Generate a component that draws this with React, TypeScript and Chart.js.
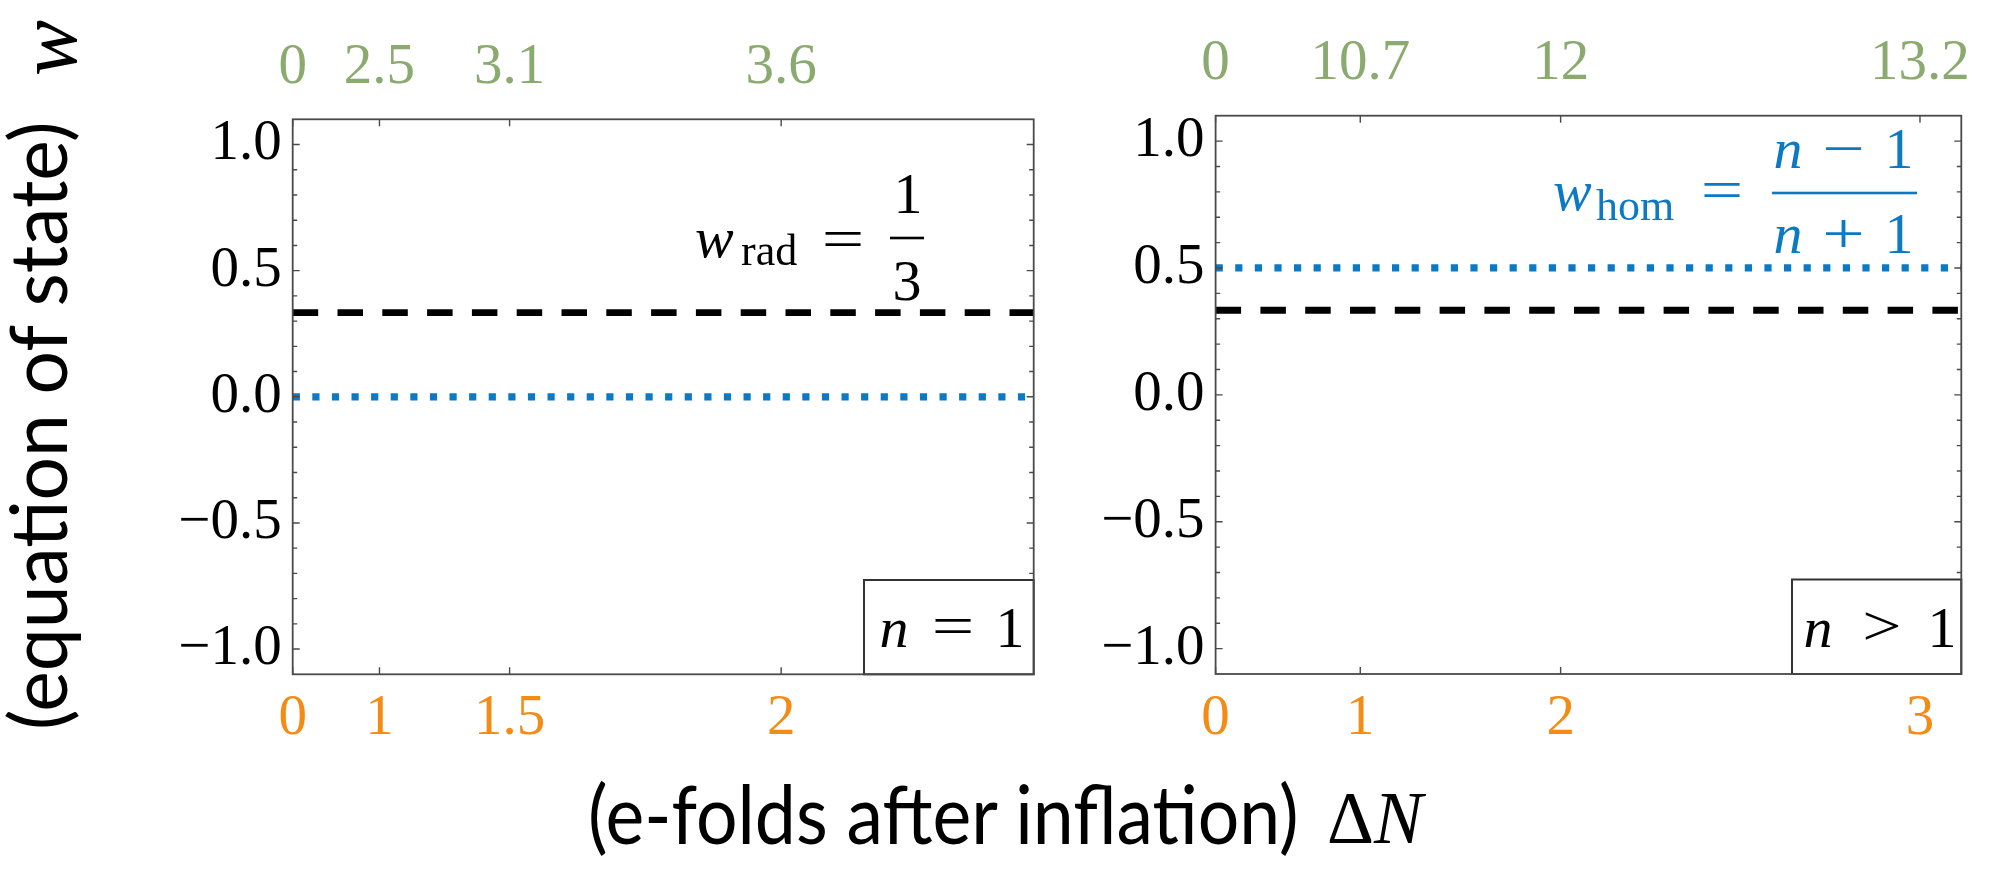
import React, { useEffect, useRef } from "react";
import { Chart, registerables } from "chart.js";

Chart.register(...registerables);

const PAGE_W = 1997;
const PAGE_H = 869;

// ---------------- data ----------------
const yTickValues = [-1.0, -0.5, 0.0, 0.5, 1.0];
const yTickLabels = ["\u22121.0", "\u22120.5", "0.0", "0.5", "1.0"];
const yMinorStep = 0.1;

// positions of the ticks along each panel's horizontal axis (0 = left edge, 1 = right edge)
const leftTickPos = [0, 0.1171, 0.2927, 0.6592];
const leftBottomLabels = ["0", "1", "1.5", "2"];
const leftTopLabels = ["0", "2.5", "3.1", "3.6"];

const rightTickPos = [0, 0.194, 0.4627, 0.9446];
const rightBottomLabels = ["0", "1", "2", "3"];
const rightTopLabels = ["0", "10.7", "12", "13.2"];

const lineX = [0, 1];
const leftRad = [1 / 3, 1 / 3];
const leftHom = [0, 0];
const rightRad = [1 / 3, 1 / 3];
const rightHom = [0.5, 0.5];

// ---------------- style ----------------
const BLUE = "#0c79c4";
const GREEN = "#8aaa6f";
const ORANGE = "#f48b14";
const FRAME = "#4a4a4a";
const SERIF = '"Liberation Serif", "DejaVu Serif", serif';
const SANS = 'Lato, "Open Sans", sans-serif';
const TICK_SIZE = 57;
const IT = (s: number) => `italic ${s}px ${SERIF}`;
const RM = (s: number) => `${s}px ${SERIF}`;

const YW = 200;
const XTH = 100;
const XBH = 120;

type Box = { left: number; right: number; top: number; bottom: number };
const leftPanel: Box = { left: 292.7, right: 1033.7, top: 119.3, bottom: 674.3 };
const rightPanel: Box = { left: 1215.6, right: 1961.3, top: 115.7, bottom: 674 };

function glyph(
  ctx: CanvasRenderingContext2D,
  t: string,
  cx: number,
  base: number,
  font: string,
  color: string,
  align: CanvasTextAlign = "center",
  sx = 1
) {
  ctx.save();
  ctx.font = font;
  ctx.fillStyle = color;
  ctx.textAlign = align;
  ctx.textBaseline = "alphabetic";
  ctx.translate(cx, base);
  ctx.scale(sx, 1);
  ctx.fillText(t, 0, 0);
  ctx.restore();
}

function hbar(ctx: CanvasRenderingContext2D, x1: number, x2: number, y: number, color: string, w = 2.6) {
  ctx.save();
  ctx.fillStyle = color;
  ctx.fillRect(x1, y - w / 2, x2 - x1, w);
  ctx.restore();
}

function labelBox(ctx: CanvasRenderingContext2D, a: any, w: number, h: number) {
  ctx.save();
  ctx.strokeStyle = "#333";
  ctx.lineWidth = 2;
  ctx.fillStyle = "#fff";
  ctx.fillRect(a.right - w, a.bottom - h, w, h);
  ctx.strokeRect(a.right - w, a.bottom - h, w, h);
  ctx.restore();
}

function annotateLeft(ctx: CanvasRenderingContext2D, a: any) {
  const R = a.right;
  const T = a.top;
  glyph(ctx, "w", R - 338.7, T + 137.7, IT(58), "#000", "left");
  glyph(ctx, "rad", R - 292.7, T + 145.7, RM(44), "#000", "left");
  glyph(ctx, "=", R - 190.7, T + 138.7, RM(58), "#000", "center", 1.3);
  glyph(ctx, "1", R - 125.7, T + 93.7, RM(58), "#000");
  hbar(ctx, R - 143.7, R - 109.7, T + 118.7, "#000");
  glyph(ctx, "3", R - 126.7, T + 180.7, RM(58), "#000");

  labelBox(ctx, a, 169.7, 94.3);
  const b = a.bottom - 27.3;
  glyph(ctx, "n", R - 139.7, b, IT(58), "#000");
  glyph(ctx, "=", R - 80.7, b - 2, RM(58), "#000", "center", 1.3);
  glyph(ctx, "1", R - 23.7, b, RM(58), "#000");
}

function annotateRight(ctx: CanvasRenderingContext2D, a: any) {
  const R = a.right;
  const T = a.top;
  glyph(ctx, "w", R - 408.3, T + 94.3, IT(58), BLUE, "left");
  glyph(ctx, "hom", R - 365.3, T + 104.3, RM(44), BLUE, "left");
  glyph(ctx, "=", R - 239.3, T + 93.3, RM(58), BLUE, "center", 1.3);
  hbar(ctx, R - 189.3, R - 44.3, T + 77.3, BLUE);
  glyph(ctx, "n", R - 173.3, T + 52.3, IT(58), BLUE);
  glyph(ctx, "\u2212", R - 117.8, T + 52.3, RM(58), BLUE, "center", 1.3);
  glyph(ctx, "1", R - 62.3, T + 52.3, RM(58), BLUE);
  glyph(ctx, "n", R - 173.3, T + 137.3, IT(58), BLUE);
  glyph(ctx, "+", R - 117.8, T + 137.3, RM(58), BLUE, "center", 1.3);
  glyph(ctx, "1", R - 62.3, T + 137.3, RM(58), BLUE);

  labelBox(ctx, a, 169.3, 94.5);
  const b = a.bottom - 27;
  glyph(ctx, "n", R - 143.3, b, IT(58), "#000");
  glyph(ctx, ">", R - 79.3, b - 2, RM(58), "#000", "center", 1.2);
  glyph(ctx, "1", R - 19.3, b, RM(58), "#000");
}

function framePlugin(tickPos: number[], annotate: (ctx: CanvasRenderingContext2D, a: any) => void) {
  return {
    id: "frameAndNotes",
    afterDatasetsDraw(chart: any) {
      const { ctx, chartArea: a, scales } = chart;
      const xs = scales.x;
      const ys = scales.y;
      ctx.save();
      ctx.strokeStyle = FRAME;
      ctx.lineWidth = 1.4;
      ctx.beginPath();
      tickPos.forEach((v) => {
        const px = xs.getPixelForValue(v);
        ctx.moveTo(px, a.bottom);
        ctx.lineTo(px, a.bottom - 7);
        ctx.moveTo(px, a.top);
        ctx.lineTo(px, a.top + 7);
      });
      for (let i = -10; i <= 10; i++) {
        const py = ys.getPixelForValue(i * yMinorStep);
        const len = i % 5 === 0 ? 7 : 4.5;
        ctx.moveTo(a.left, py);
        ctx.lineTo(a.left + len, py);
        ctx.moveTo(a.right, py);
        ctx.lineTo(a.right - len, py);
      }
      ctx.stroke();
      annotate(ctx, a);
      ctx.strokeStyle = FRAME;
      ctx.lineWidth = 1.8;
      ctx.strokeRect(a.left, a.top, a.right - a.left, a.bottom - a.top);
      ctx.restore();
    },
  };
}

function buildChart(
  canvas: HTMLCanvasElement,
  p: Box,
  tickPos: number[],
  bottomLabels: string[],
  topLabels: string[],
  hom: number[],
  rad: number[],
  annotate: (ctx: CanvasRenderingContext2D, a: any) => void
) {
  const xAxis = (labels: string[], color: string, position: "top" | "bottom", padding: number, h: number) => ({
    type: "linear" as const,
    position,
    min: 0,
    max: 1,
    grid: { display: false, drawTicks: false },
    border: { display: false },
    afterBuildTicks: (s: any) => {
      s.ticks = tickPos.map((v) => ({ value: v }));
    },
    afterFit: (s: any) => {
      s.height = h;
      s.paddingLeft = 0;
      s.paddingRight = 0;
    },
    ticks: {
      autoSkip: false,
      maxRotation: 0,
      minRotation: 0,
      padding,
      color,
      font: { family: SERIF, size: TICK_SIZE },
      callback: (_v: any, i: number) => labels[i],
    },
  });

  return new Chart(canvas, {
    type: "line",
    data: {
      datasets: [
        {
          data: lineX.map((x, i) => ({ x, y: hom[i] })),
          borderColor: BLUE,
          borderWidth: 7.2,
          borderDash: [7.2, 12.4],
          borderCapStyle: "butt",
          pointRadius: 0,
          fill: false,
          xAxisID: "x",
          yAxisID: "y",
        },
        {
          data: lineX.map((x, i) => ({ x, y: rad[i] })),
          borderColor: "#000",
          borderWidth: 6.8,
          borderDash: [25.5, 19.3],
          borderCapStyle: "butt",
          pointRadius: 0,
          fill: false,
          xAxisID: "x",
          yAxisID: "y",
        },
      ],
    },
    options: {
      animation: false,
      responsive: false,
      devicePixelRatio: 1,
      events: [],
      layout: {
        padding: {
          left: p.left - YW,
          right: PAGE_W - p.right,
          top: p.top - XTH,
          bottom: PAGE_H - p.bottom - XBH,
        },
      },
      plugins: { legend: { display: false }, tooltip: { enabled: false } },
      scales: {
        x: xAxis(bottomLabels, ORANGE, "bottom", 11, XBH),
        x2: xAxis(topLabels, GREEN, "top", 17, XTH),
        y: {
          type: "linear",
          position: "left",
          min: -1.1,
          max: 1.1,
          grid: { display: false, drawTicks: false },
          border: { display: false },
          afterBuildTicks: (s: any) => {
            s.ticks = yTickValues.map((v) => ({ value: v }));
          },
          afterFit: (s: any) => {
            s.width = YW;
            s.paddingTop = 0;
            s.paddingBottom = 0;
          },
          ticks: {
            padding: 11,
            color: "#000",
            font: { family: SERIF, size: TICK_SIZE },
            callback: (_v: any, i: number) => yTickLabels[i],
          },
        },
      },
    } as any,
    plugins: [framePlugin(tickPos, annotate)],
  });
}

export default function App() {
  const leftRef = useRef<HTMLCanvasElement | null>(null);
  const rightRef = useRef<HTMLCanvasElement | null>(null);

  useEffect(() => {
    const c1 = buildChart(leftRef.current!, leftPanel, leftTickPos, leftBottomLabels, leftTopLabels, leftHom, leftRad, annotateLeft);
    const c2 = buildChart(rightRef.current!, rightPanel, rightTickPos, rightBottomLabels, rightTopLabels, rightHom, rightRad, annotateRight);
    return () => {
      c1.destroy();
      c2.destroy();
    };
  }, []);

  const canvasStyle: React.CSSProperties = { position: "absolute", left: 0, top: 0, width: PAGE_W, height: PAGE_H };
  const abs: React.CSSProperties = {
    position: "absolute",
    left: 0,
    top: 0,
    whiteSpace: "nowrap",
    lineHeight: 1,
    color: "#000",
  };

  return (
    <div style={{ position: "absolute", left: 0, top: 0, width: PAGE_W, height: PAGE_H, background: "#fff", overflow: "hidden" }}>
      <canvas ref={leftRef} width={PAGE_W} height={PAGE_H} style={canvasStyle} />
      <canvas ref={rightRef} width={PAGE_W} height={PAGE_H} style={canvasStyle} />
      {/* y-axis title */}
      <div
        style={{
          ...abs,
          transformOrigin: "0 0",
          transform: "translate(-4px, 730px) rotate(-90deg) scale(0.96, 1)",
          fontFamily: SANS,
          fontSize: 80,
        }}
      >
        (equation of state)
      </div>
      <div
        style={{
          ...abs,
          transformOrigin: "0 0",
          transform: "translate(6px, 76px) rotate(-90deg)",
          fontFamily: SERIF,
          fontStyle: "italic",
          fontSize: 84,
        }}
      >
        w
      </div>
      {/* x-axis title */}
      <div
        style={{
          ...abs,
          transformOrigin: "0 0",
          transform: "translate(588px, 771px) scale(0.895, 1)",
          fontFamily: SANS,
          fontSize: 82,
        }}
      >
        (e-folds after inflation)
      </div>
      <div
        style={{
          ...abs,
          transform: "translate(1327px, 782px)",
          fontFamily: SERIF,
          fontSize: 73,
        }}
      >
        <span>{"\u0394"}</span>
        <span style={{ fontStyle: "italic" }}>N</span>
      </div>
    </div>
  );
}
